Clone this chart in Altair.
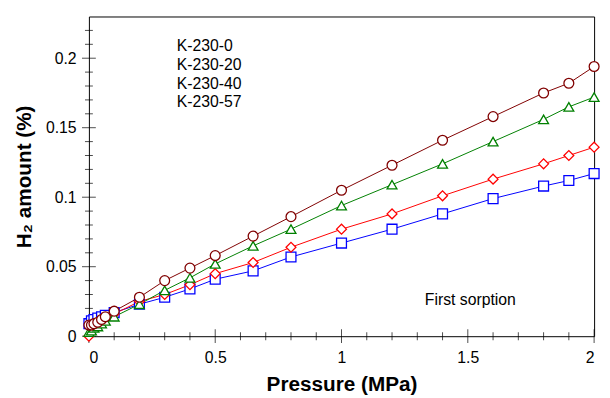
import altair as alt
import pandas as pd

# ---- data ----
pressure = [0, 0.01, 0.02, 0.035, 0.05, 0.065, 0.1, 0.2, 0.3, 0.4, 0.5, 0.65, 0.8,
            1.0, 1.2, 1.4, 1.6, 1.8, 1.9, 2.0]
k230_0 = [0.009, 0.011, 0.012, 0.013, 0.014, 0.015, 0.017, 0.023, 0.028, 0.034, 0.041,
          0.047, 0.057, 0.067, 0.077, 0.088, 0.099, 0.108, 0.112, 0.117]
k230_20 = [0.000, 0.006, 0.008, 0.009, 0.011, 0.013, 0.016, 0.025, 0.030, 0.037, 0.045,
           0.053, 0.064, 0.077, 0.088, 0.101, 0.113, 0.124, 0.130, 0.136]
k230_40 = [0.003, 0.004, 0.006, 0.007, 0.009, 0.011, 0.014, 0.023, 0.033, 0.042, 0.052,
           0.065, 0.077, 0.094, 0.109, 0.124, 0.140, 0.156, 0.165, 0.172]
k230_57 = [0.008, 0.008, 0.009, 0.010, 0.012, 0.014, 0.018, 0.028, 0.040, 0.049, 0.058,
           0.072, 0.086, 0.105, 0.123, 0.141, 0.158, 0.175, 0.182, 0.194]

series_names = ["K-230-0", "K-230-20", "K-230-40", "K-230-57"]
series_values = [k230_0, k230_20, k230_40, k230_57]
colors = ["#0000FF", "#FF0000", "#008000", "#800000"]
shapes = ["square", "diamond", "triangle-up", "circle"]
legend_paths = [
    "M-3,0H-0.95M0.95,0H3M-0.95,-0.95H0.95V0.95H-0.95Z",
    "M-3,0H-1M1,0H3M0,-1.05L1,0L0,1.05L-1,0Z",
    "M-3,0H-0.5M0.5,0H3M0,-0.95L1.1,1.05H-1.1Z",
    "M-3,0H-0.9M0.9,0H3M0.9,0A0.9,0.9 0 1,1 -0.9,0A0.9,0.9 0 1,1 0.9,0Z",
]

x_major = [0, 0.5, 1, 1.5, 2]
x_minor = [0.1, 0.2, 0.3, 0.4, 0.6, 0.7, 0.8, 0.9,
           1.1, 1.2, 1.3, 1.4, 1.6, 1.7, 1.8, 1.9]
y_major = [0, 0.05, 0.1, 0.15, 0.2]
y_minor = [0.01, 0.02, 0.03, 0.04, 0.06, 0.07, 0.08, 0.09, 0.11,
           0.12, 0.13, 0.14, 0.16, 0.17, 0.18, 0.19, 0.21, 0.22]

note_text = ["First sorption"]
note_x = [1.51]
note_y = [0.026]

rows = []
idx = 0
for name, vals in zip(series_names, series_values):
    for p, v in zip(pressure, vals):
        rows.append({"series": name, "pressure": p, "amount": v, "idx": idx})
        idx += 1
df = pd.DataFrame(rows)
note_df = pd.DataFrame({"text": note_text, "x": note_x, "y": note_y})

FONT = "Liberation Sans"
xs = alt.Scale(domain=[0, 2], nice=False, zero=False)
ys = alt.Scale(domain=[0, 0.23], nice=False, zero=False)
stroke_scale = alt.Scale(domain=series_names, range=colors)

x_axis = alt.Axis(values=x_major, format="~g", ticks=False, domain=False, grid=False,
                  labelFontSize=16, labelPadding=14,
                  title="Pressure (MPa)", titleFontSize=21, titleFontWeight="bold",
                  titlePadding=8)
y_axis = alt.Axis(values=y_major, format="~g", ticks=False, domain=False, grid=False,
                  labelFontSize=16, labelPadding=13,
                  title="H₂ amount (%)", titleFontSize=21, titleFontWeight="bold",
                  titlePadding=11)

base = alt.Chart(df)

lines = base.mark_line(strokeWidth=1, clip=False).encode(
    x=alt.X("pressure:Q", scale=xs, axis=x_axis),
    y=alt.Y("amount:Q", scale=ys, axis=y_axis),
    stroke=alt.Stroke("series:N", scale=stroke_scale, legend=None),
    order=alt.Order("pressure:Q"),
)

points = base.mark_point(filled=True, fill="white", size=100, strokeWidth=1.3,
                         opacity=1, clip=False).encode(
    x=alt.X("pressure:Q", scale=xs, axis=x_axis),
    y=alt.Y("amount:Q", scale=ys, axis=y_axis),
    stroke=alt.Stroke("series:N", scale=stroke_scale, legend=None),
    shape=alt.Shape("series:N", scale=alt.Scale(domain=series_names, range=shapes),
                    legend=None),
    order=alt.Order("idx:Q"),
)

leg = dict(title=None, orient="none", legendX=58, legendY=22, symbolSize=100,
           symbolStrokeWidth=1.2, symbolFillColor="white", symbolOpacity=1,
           symbolStrokeColor="black",
           labelFontSize=16, labelFont=FONT, labelOffset=15, rowPadding=3, padding=0,
           labelColor="black")

legend_layer = base.mark_point(filled=True, fill="white", size=0).encode(
    x=alt.X("pressure:Q", scale=xs, axis=x_axis),
    y=alt.Y("amount:Q", scale=ys, axis=y_axis),
    stroke=alt.Stroke("series:N", scale=stroke_scale, legend=alt.Legend(**leg)),
    shape=alt.Shape("series:N", scale=alt.Scale(domain=series_names, range=legend_paths),
                    legend=alt.Legend(**leg)),
)

def xticks(vals, length):
    return alt.Chart(pd.DataFrame({"pressure": vals})).mark_tick(
        color="#000000", thickness=1, size=length * 2, orient="vertical").encode(
        x=alt.X("pressure:Q", scale=xs, axis=x_axis),
        y=alt.value(324),
    )

def yticks(vals, length):
    return alt.Chart(pd.DataFrame({"amount": vals})).mark_tick(
        color="#000000", thickness=1, size=length * 2, orient="horizontal").encode(
        y=alt.Y("amount:Q", scale=ys, axis=y_axis),
        x=alt.value(0),
    )

note = alt.Chart(note_df).mark_text(fontSize=16, font=FONT, color="black",
                                    align="center", baseline="middle").encode(
    x=alt.X("x:Q", scale=xs, axis=x_axis),
    y=alt.Y("y:Q", scale=ys, axis=y_axis),
    text="text:N",
)

chart = alt.layer(
    xticks(x_major, 7), xticks(x_minor, 4), yticks(y_major, 7), yticks(y_minor, 4),
    lines, points, legend_layer, note,
).resolve_scale(
    shape="independent"
).properties(
    width=602, height=389,
    autosize=alt.AutoSizeParams(type="fit", contains="padding"),
    padding={"left": 5, "top": 6, "right": 0, "bottom": 0},
).configure(
    font=FONT,
).configure_view(
    stroke="#000000", strokeWidth=1,
).configure_axis(
    labelFont=FONT, titleFont=FONT, labelColor="black", titleColor="black",
)

chart.save("out.html", embed_options={"renderer": "svg", "actions": False})
